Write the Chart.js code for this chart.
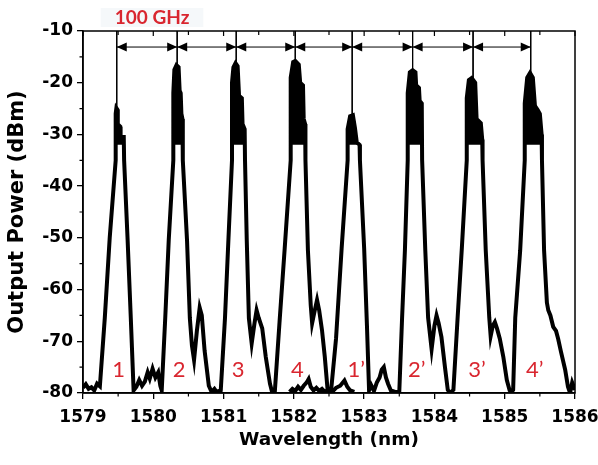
<!DOCTYPE html>
<html>
<head>
<meta charset="utf-8">
<script src="https://cdn.jsdelivr.net/npm/chart.js@4.4.0/dist/chart.umd.min.js"></script>
<style>
  html, body { margin: 0; padding: 0; background: #fff; }
  #wrap { width: 598px; height: 465px; }
</style>
</head>
<body>
<div id="wrap"><canvas id="spectrum" width="598" height="465"></canvas></div>
<script>
// Output spectrum: wavelength (nm) / power (dBm)
// each line of traceWl matches the same line of tracePow; the noisy peak tops are traced as their outline
const traceWl = [
  1579.00, 1579.04, 1579.08, 1579.12, 1579.16, 1579.20, 1579.24, 1579.31, 1579.38,
  1579.465, 1579.465, 1579.475, 1579.49, 1579.495, 1579.53, 1579.535, 1579.58, 1579.585,
  1579.635, 1579.68, 1579.72, 1579.76, 1579.80, 1579.84, 1579.88, 1579.92, 1579.95, 1579.99, 1580.03, 1580.07, 1580.10, 1580.12, 1580.17, 1580.22,
  1580.285, 1580.285, 1580.30, 1580.33, 1580.36, 1580.375, 1580.39, 1580.40, 1580.415, 1580.42,
  1580.48, 1580.52, 1580.55, 1580.58, 1580.62, 1580.66, 1580.69, 1580.73, 1580.79, 1580.83, 1580.87, 1580.90, 1580.96, 1581.02, 1581.07,
  1581.12, 1581.12, 1581.14, 1581.17, 1581.20, 1581.22, 1581.26, 1581.27, 1581.30, 1581.305,
  1581.33, 1581.36, 1581.40, 1581.44, 1581.47, 1581.50, 1581.55, 1581.60, 1581.66, 1581.69, 1581.73, 1581.80, 1581.87,
  1581.955, 1581.955, 1581.99, 1582.02, 1582.07, 1582.09, 1582.13, 1582.14, 1582.16, 1582.165,
  1582.20, 1582.24, 1582.26, 1582.29, 1582.33, 1582.36, 1582.40, 1582.44, 1582.48, 1582.51, 1582.53, 1582.60, 1582.68,
  1582.765, 1582.765, 1582.80, 1582.84, 1582.87, 1582.895, 1582.935, 1582.94,
  1583.00, 1583.04, 1583.07, 1583.10, 1583.14, 1583.18, 1583.22, 1583.25, 1583.28, 1583.31, 1583.34, 1583.38, 1583.44, 1583.50, 1583.54, 1583.58,
  1583.62, 1583.62, 1583.65, 1583.69, 1583.73, 1583.74, 1583.78, 1583.79, 1583.82, 1583.825,
  1583.87, 1583.91, 1583.96, 1584.00, 1584.03, 1584.06, 1584.10, 1584.15, 1584.19, 1584.22, 1584.27, 1584.33, 1584.39,
  1584.46, 1584.46, 1584.49, 1584.53, 1584.58, 1584.60, 1584.66, 1584.68, 1584.685,
  1584.73, 1584.78, 1584.80, 1584.83, 1584.86, 1584.89, 1584.93, 1584.98, 1585.03, 1585.07, 1585.10, 1585.12, 1585.15, 1585.22,
  1585.285, 1585.285, 1585.32, 1585.36, 1585.40, 1585.43, 1585.47, 1585.50, 1585.525, 1585.53,
  1585.56, 1585.60, 1585.62, 1585.65, 1585.69, 1585.73, 1585.76, 1585.80, 1585.86, 1585.90, 1585.93, 1585.96, 1586.00
];
const tracePow = [
  -79.0, -78.3, -79.2, -78.9, -79.5, -78.2, -78.7, -65.5, -50.0,
  -35.0, -26.0, -24.9, -25.2, -28.0, -28.5, -30.5, -30.5, -35.0,
  -50.5, -65.5, -79.5, -78.8, -77.5, -78.6, -77.8, -76.0, -77.2, -75.3, -77.0, -76.0, -78.6, -79.5, -65.5, -50.4,
  -35.0, -22.0, -17.5, -16.6, -17.0, -21.5, -22.0, -26.0, -27.0, -35.0,
  -50.5, -65.5, -70.8, -73.6, -68.0, -63.5, -65.0, -71.8, -78.6, -79.8, -79.2, -79.8, -79.5, -65.5, -50.0,
  -35.0, -20.0, -17.0, -16.2, -16.8, -22.5, -23.0, -28.0, -29.0, -35.0,
  -50.5, -65.5, -70.4, -66.5, -64.0, -65.5, -67.5, -73.0, -78.2, -79.8, -79.6, -65.5, -52.0,
  -35.0, -19.0, -16.0, -15.8, -16.5, -20.0, -20.5, -27.0, -28.0, -35.0,
  -52.4, -63.0, -66.5, -64.5, -62.0, -64.0, -67.8, -73.0, -79.4, -79.8, -79.5, -69.5, -52.0,
  -35.0, -29.0, -26.5, -26.3, -28.8, -31.5, -32.0, -35.0,
  -52.0, -67.0, -79.5, -78.5, -79.6, -78.0, -77.0, -75.5, -75.0, -77.0, -78.2, -79.5, -79.8, -79.8, -65.4, -52.4,
  -35.0, -22.0, -18.0, -17.6, -18.0, -20.5, -21.0, -23.5, -24.0, -35.0,
  -52.4, -65.4, -71.5, -67.0, -65.0, -66.5, -69.2, -75.0, -79.4, -80.0, -79.4, -65.4, -52.0,
  -35.0, -23.0, -19.5, -19.1, -20.0, -27.0, -27.8, -31.0, -35.0,
  -52.4, -65.4, -69.0, -67.0, -66.3, -67.5, -69.5, -73.0, -77.5, -79.5, -79.8, -79.4, -65.4, -52.4,
  -35.0, -24.0, -19.0, -18.1, -19.0, -24.5, -25.3, -26.0, -30.0, -35.0,
  -52.4, -62.5, -64.0, -65.0, -67.2, -68.0, -69.5, -72.0, -75.5, -78.8, -80.0, -78.0, -79.4
];

// second noise-floor trace showing under channels 4 and 1'
const floorWl = [
  1581.94, 1581.98, 1582.02, 1582.06, 1582.10, 1582.14, 1582.18, 1582.21, 1582.24, 1582.28,
  1582.32, 1582.36, 1582.40, 1582.44, 1582.50, 1582.55, 1582.60, 1582.66, 1582.72, 1582.76,
  1582.80, 1582.86
];
const floorPow = [
  -79.8, -79.2, -79.6, -78.8, -79.4, -78.6, -78.0, -77.3, -78.8, -79.5,
  -79.0, -79.6, -79.2, -79.8, -79.3, -79.7, -79.0, -78.6, -77.6, -78.8,
  -79.5, -79.8
];

// channel centres, peak tops and names
const channelWl = [1579.48, 1580.34, 1581.18, 1582.02, 1582.83, 1583.69, 1584.55, 1585.37];
const channelTop = [-24.9, -16.6, -16.2, -15.8, -26.3, -17.6, -19.1, -18.1];
const channelNames = ['1', '2', '3', '4', '1’', '2’', '3’', '4’'];
const spacingLevel = -13.1;
const spacingText = '100 GHz';
const labelLevel = -75.6;
const noiseBase = -32; // the noisy tops read as solid black above this level

const RED = '#d9262f';
const axisFont = { family: 'DejaVu Sans', weight: 'bold', size: 17 };

function toPoints(xs, ys) {
  return xs.map((x, i) => ({ x: x, y: ys[i] }));
}

// peak-top outlines taken from the trace, filled down to noiseBase
const topPoints = [];
traceWl.forEach((wl, i) => {
  if (tracePow[i] >= noiseBase) {
    topPoints.push({ x: wl, y: tracePow[i] });
  } else if (topPoints.length && topPoints[topPoints.length - 1].y !== null) {
    topPoints.push({ x: wl, y: null });
  }
});

// vertical marker lines from the top frame down to each peak
const markerPoints = [];
channelWl.forEach((wl, i) => {
  markerPoints.push({ x: wl, y: -10 }, { x: wl, y: channelTop[i] }, { x: wl, y: null });
});

const decorations = {
  id: 'decorations',
  afterDatasetsDraw(chart) {
    const { ctx, chartArea: a, scales: { x, y } } = chart;
    ctx.save();

    // frame
    ctx.strokeStyle = '#000';
    ctx.lineWidth = 1.5;
    ctx.strokeRect(a.left, a.top, a.right - a.left, a.bottom - a.top);

    // minor ticks and top inward ticks
    ctx.lineWidth = 1.2;
    ctx.beginPath();
    for (let k = 0; k <= 14; k++) {
      const px = x.getPixelForValue(x.min + k * 0.5);
      const major = k % 2 === 0;
      if (!major) {
        ctx.moveTo(px, a.bottom);
        ctx.lineTo(px, a.bottom + 3.5);
      }
      ctx.moveTo(px, a.top);
      ctx.lineTo(px, a.top + (major ? 5 : 4));
    }
    for (let k = 0; k < 7; k++) {
      const py = y.getPixelForValue(y.min + 5 + k * 10);
      ctx.moveTo(a.left, py);
      ctx.lineTo(a.left - 3.5, py);
    }
    ctx.stroke();

    // double arrows between channels
    const ay = y.getPixelForValue(spacingLevel);
    ctx.fillStyle = '#000';
    function head(tip, dir) {
      ctx.beginPath();
      ctx.moveTo(tip, ay);
      ctx.lineTo(tip - dir * 10, ay - 4.5);
      ctx.lineTo(tip - dir * 10, ay + 4.5);
      ctx.closePath();
      ctx.fill();
    }
    channelWl.forEach((wl, i) => {
      const px = x.getPixelForValue(wl);
      if (i > 0) head(px, 1);
      if (i < channelWl.length - 1) head(px, -1);
    });

    // red labels
    ctx.textBaseline = 'middle';
    const gx = x.getPixelForValue(channelWl[0]) - 2;
    ctx.font = 'bold 19px Lato';
    const gw = ctx.measureText(spacingText).width;
    ctx.fillStyle = 'rgba(205, 218, 230, 0.2)';
    ctx.fillRect(gx - 14, a.top - 23, gw + 28, 19);
    ctx.fillStyle = RED;
    ctx.textAlign = 'left';
    ctx.fillText(spacingText, gx, a.top - 13);

    ctx.font = '22px Lato';
    ctx.textAlign = 'center';
    channelNames.forEach((name, i) => {
      const px = x.getPixelForValue(channelWl[i]) + (name.length > 1 ? 4 : 2);
      ctx.fillText(name, px, y.getPixelForValue(labelLevel));
    });
    ctx.restore();
  }
};

new Chart(document.getElementById('spectrum'), {
  type: 'scatter',
  data: {
    datasets: [
      {
        label: 'spectrum',
        data: toPoints(traceWl, tracePow),
        showLine: true,
        borderColor: '#000',
        borderWidth: 4,
        pointRadius: 0,
        tension: 0
      },
      {
        label: 'noisy tops',
        data: topPoints,
        showLine: true,
        spanGaps: false,
        borderColor: 'rgba(0,0,0,0)',
        borderWidth: 1,
        backgroundColor: '#000',
        fill: { value: noiseBase },
        pointRadius: 0
      },
      {
        label: 'floor',
        data: toPoints(floorWl, floorPow),
        showLine: true,
        borderColor: '#000',
        borderWidth: 4,
        pointRadius: 0,
        tension: 0
      },
      {
        label: 'markers',
        data: markerPoints,
        showLine: true,
        spanGaps: false,
        borderColor: '#000',
        borderWidth: 1,
        pointRadius: 0
      },
      {
        label: 'spacing',
        data: [
          { x: channelWl[0], y: spacingLevel },
          { x: channelWl[channelWl.length - 1], y: spacingLevel }
        ],
        showLine: true,
        borderColor: '#000',
        borderWidth: 1,
        pointRadius: 0
      }
    ]
  },
  options: {
    responsive: false,
    animation: false,
    devicePixelRatio: 1,
    layout: { padding: { top: 31, right: 23, left: 0, bottom: 0 } },
    plugins: {
      legend: { display: false },
      tooltip: { enabled: false }
    },
    scales: {
      x: {
        type: 'linear',
        min: 1579,
        max: 1586,
        ticks: {
          stepSize: 1,
          autoSkip: false,
          maxRotation: 0,
          color: '#000',
          font: axisFont,
          padding: 8,
          callback: v => String(v)
        },
        grid: { drawOnChartArea: false, color: '#000', lineWidth: 1.3, tickLength: 6 },
        border: { color: '#000', width: 1.5 },
        title: {
          display: true,
          text: 'Wavelength (nm)',
          color: '#000',
          font: { family: 'DejaVu Sans', weight: 'bold', size: 18.5 },
          padding: { top: 0, bottom: 14 }
        },
        afterFit(scale) {
          scale.height = 72;
          scale.paddingLeft = 0;
          scale.paddingRight = 0;
        }
      },
      y: {
        type: 'linear',
        min: -80,
        max: -10,
        ticks: {
          stepSize: 10,
          color: '#000',
          font: axisFont,
          padding: 4
        },
        grid: { drawOnChartArea: false, color: '#000', lineWidth: 1.3, tickLength: 6 },
        border: { color: '#000', width: 1.5 },
        title: {
          display: true,
          text: 'Output Power (dBm)',
          color: '#000',
          font: { family: 'DejaVu Sans', weight: 'bold', size: 21 },
          padding: { top: 5, bottom: 0 }
        },
        afterFit(scale) {
          scale.width = 83;
          scale.paddingTop = 0;
          scale.paddingBottom = 0;
        }
      }
    }
  },
  plugins: [decorations]
});
</script>
</body>
</html>
